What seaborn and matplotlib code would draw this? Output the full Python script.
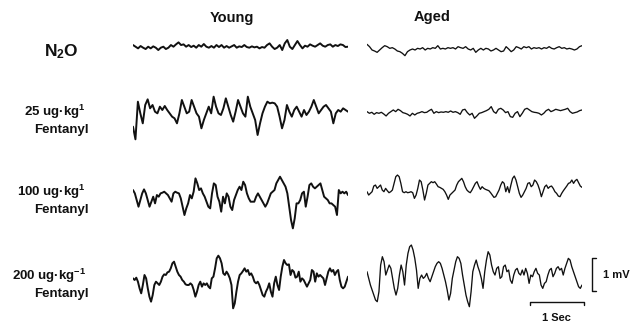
import numpy as np
import pandas as pd
import matplotlib
matplotlib.use("Agg")
import matplotlib.pyplot as plt
import seaborn as sns

# EEG traces (microvolts, about 4 s per trace)
young_n2o = [50, 0, -50, 20, -30, -70, 0, -50, 10, -30, -100, -30, 0, -70, -30, 50, 0, 70, 130, 50,
             70, 0, 50, -10, 30, -30, 50, 0, 80, 0, -30, 20, -30, 50, -10, 50, -30, 20, -30, 10,
             50, -30, 10, -10, 50, -10, -30, 10, -20, 0, -50, -10, -30, 50, 100, 0, -70, -30, 50, -100,
             100, 200, 0, -70, 50, 170, 50, -50, 30, 0, 70, 30, 0, 50, 100, 30, 0, 50, 70, 0,
             50, 20, 70, 50, -10, 0]
aged_n2o = [170, 100, 0, -30, -70, 0, 70, 130, 100, 50, 70, 30, -30, -50, -100, -170, -50, 0, 30, 0,
            50, 30, 70, 0, 50, 30, 70, 50, 130, 30, 50, 30, 70, 50, 70, 30, 100, 70, 50, 100,
            30, 0, 50, -70, 0, 50, 0, 50, 30, -30, 0, 50, 0, -50, -30, 100, 30, -50, 0, 100,
            70, 30, 100, 70, 100, 30, 70, 50, 70, 30, 70, 50, 100, 50, 30, 70, 100, 50, 70, 30,
            50, 30, 0, 30, 100, 130]
young_f25 = [-410, -790, 340, -10, -310, 240, 410, 140, 240, 40, -10, 190, 90, 210, 90, -10, -110, -160, -310, -10,
             390, 190, -10, 40, 390, 190, -10, -110, -460, -210, -10, 190, -10, 490, 190, -10, -60, 140, 440, 190,
             -60, -260, 40, 390, 190, -10, -110, 490, 190, -10, -210, -660, -310, -10, 190, 340, 290, 310, 290, 190,
             -110, -460, -210, 240, 40, -110, 90, 190, 40, -110, 90, -60, 40, 190, 390, 190, -10, 90, 190, 240,
             140, 40, -310, -10, 90, 40, 140, 90, 40]
aged_f25 = [50, 0, 30, -30, 20, 0, 30, -20, -80, 0, 50, 100, 50, 120, 80, 20, 0, -30, -80, 0,
            -50, 0, 20, 50, 20, 30, 80, 120, 0, 50, 20, 40, 30, 50, 30, 70, 30, 50, 20, -30,
            100, 120, 20, -50, 0, -150, -80, 0, 20, 50, 80, 120, 200, 50, 0, 120, 150, 100, 20, 50,
            -100, -120, 0, 50, -100, 0, 120, 150, 100, 50, 30, 20, 0, -50, 0, 80, 120, 50, 80, 120,
            100, 80, 100, 120, 150, 50, 0, 20, 40, 80, 100]
young_f100 = [200, 100, -100, -300, -100, 100, 220, 100, -100, -300, -150, 0, -200, 50, 0, 100, 120, 150, 100, 50,
              -50, -150, 100, 150, 120, 100, -50, -300, -550, -350, -200, 50, -50, 150, 550, 400, 200, 250, 100, 0,
              -150, -300, -350, 100, 400, 350, 0, -150, -450, 0, -200, 100, 0, -300, -400, -100, 50, 200, 300, 200,
              450, 350, 100, -50, -150, -150, -150, 0, 100, 0, -100, -200, -300, -200, -50, 100, 150, 200, 400, 500,
              600, 500, 400, 300, 100, -300, -700, -950, -650, -200, -200, -100, 100, 150, -300, 0, 350, 400, 300, 250,
              300, 350, 400, 200, 0, -50, -100, -200, -200, -250, -300, -550, 200, 100, 150, 100, 150, 50]
aged_f100 = [0, -100, -50, 0, 170, 200, 100, 150, 200, 50, 0, 100, 30, -30, 0, 50, 250, 450, 500, 450,
             250, 0, -30, 0, -30, -20, 0, -30, -200, -100, 100, 350, 300, 50, -250, -50, 200, 250, 300, 270,
             300, 230, 150, 130, 100, 70, 0, -100, -230, -100, -50, 0, 50, 200, 300, 350, 400, 300, 150, 50,
             0, -30, 50, 150, 250, 300, 170, 70, 150, 100, 70, 50, 30, -30, -100, -170, -150, -50, 50, 200,
             300, 250, 0, 150, -30, 200, 400, 470, 350, 150, -50, -170, -100, 0, 100, 250, 270, 150, 200, 350,
             300, 200, 50, -150, 0, 150, 200, 100, 150, 170, 100, 0, -50, -130, -150, -50, 30, 100, 170, 250,
             270, 350, 250, 330, 370, 270, 170, 130]
young_f200 = [50, 0, 70, -50, -250, -400, -150, 150, 50, -250, -500, -650, -450, -150, -50, -100, -150, -50, 100, 170,
              150, 230, 250, 350, 500, 550, 400, 250, 150, 100, 0, -50, -130, -150, -150, -100, -150, -300, -500, -350,
              -150, -50, -200, -100, -150, -100, -200, -250, 50, 100, 350, 650, 730, 650, 500, 200, 150, 250, 170, 50,
              -150, -850, -700, -350, -50, 150, 200, 270, 350, 250, 300, 150, 200, 100, -50, -100, -50, -150, -300, -450,
              -500, -350, -250, -100, -350, -500, -100, 100, -150, -300, 100, 400, 600, 500, 450, 470, 150, 300, 250, 70,
              100, 250, -50, 50, 0, -100, -200, -100, 0, 300, 250, -50, 200, 100, 150, 100, 50, -150, 50, 250,
              350, 250, 300, 150, 250, 300, 0, -200, -250, -200, -50, 100]
aged_f200 = [300, 100, -100, -250, -400, -550, -600, -300, 500, 750, 600, 200, 350, 500, 400, 100, -200, -400, -200, 200,
             500, 300, -100, 500, 850, 1050, 1100, 950, 700, 350, -200, 100, 200, 100, 150, 250, 100, 0, 150, 300,
             450, 550, 600, 550, 400, 200, 0, -250, -550, -350, 100, 350, 600, 750, 700, 550, 200, -100, -400, -600,
             -750, -300, 300, 500, 650, 450, 300, 100, -200, 300, 650, 900, 800, 500, 300, 200, 400, 450, 100, 150,
             450, 500, 300, 350, 50, -50, 200, 350, 400, 250, 200, 350, 200, 400, 250, -50, 200, 150, 300, 400,
             250, 200, -100, -200, -50, 0, 200, 350, 400, 150, 250, 400, 450, 350, 400, 200, 400, 550, 700, 650,
             450, 300, 150, 0, -150, -200, -100]

groups = ["Young", "Aged"]
dose_labels = ["N$_{\\mathbf{2}}$O",
               "25 ug\u00b7kg$^{\\mathbf{1}}$",
               "100 ug\u00b7kg$^{\\mathbf{1}}$",
               "200 ug\u00b7kg$^{\\mathbf{-1}}$"]
drug = "Fentanyl"

traces = [[young_n2o, aged_n2o],
          [young_f25, aged_f25],
          [young_f100, aged_f100],
          [young_f200, aged_f200]]

sns.set_theme(style="white")
plt.rcParams['font.family'] = ['Liberation Sans', 'DejaVu Sans']
plt.rcParams['font.weight'] = 'bold'
plt.rcParams['mathtext.fontset'] = 'custom'
plt.rcParams['mathtext.rm'] = 'Liberation Sans:bold'
plt.rcParams['mathtext.bf'] = 'Liberation Sans:bold'
plt.rcParams['mathtext.it'] = 'Liberation Sans:bold:italic'

W, H = 630, 323
fig = plt.figure(figsize=(W / 100, H / 100), dpi=100)
fig.patch.set_facecolor("white")

# layout in pixels
SEC = 4.0
UV_HALF = 1200          # each strip shows +-1.2 mV
AX_H = 80               # px per strip -> 1 mV ~ 33 px
col_left = [133, 367]
col_w = 215
baseline = [[46.7, 50], [113, 113.3], [196.7, 191.7], [280, 281.7]]
lws = [1.4, 0.95]

axes = {}
for r in range(4):
    for c in range(2):
        y0 = baseline[r][c]
        ax = fig.add_axes([col_left[c] / W, 1 - (y0 + AX_H / 2) / H, col_w / W, AX_H / H])
        v = traces[r][c]
        df = pd.DataFrame({"t": np.linspace(0, SEC, len(v)), "uv": v})
        sns.lineplot(data=df, x="t", y="uv", ax=ax, color="#111111", lw=lws[c],
                     sort=False, estimator=None)
        ax.set_xlim(0, SEC)
        ax.set_ylim(-UV_HALF, UV_HALF)
        ax.axis("off")
        ax.patch.set_alpha(0)
        axes[r, c] = ax

# column titles
tc = "#111111"
fig.text(232 / W, 1 - 18 / H, groups[0], ha="center", va="center", fontsize=10.5, color=tc)
fig.text(432 / W, 1 - 17 / H, groups[1], ha="center", va="center", fontsize=10.5, color=tc)

# row labels
fs = 9.5
fig.text(61 / W, 1 - 52 / H, dose_labels[0], ha="center", va="center", fontsize=12.5, color=tc)
label_y = [(116, 133), (196, 213), (280, 297)]   # text baselines
for (y1, y2), lab in zip(label_y, dose_labels[1:]):
    fig.text(86 / W, 1 - y1 / H, lab, ha="right", va="baseline", fontsize=fs, color=tc)
    fig.text(89 / W, 1 - y2 / H, drug, ha="right", va="baseline", fontsize=fs, color=tc)

# scale bars (1 mV, 1 s) in the last strip's units
ax = axes[3, 1]
sb = dict(color="#111111", lw=1.0, clip_on=False)
bx = 4.19
ax.plot([bx + 0.07, bx, bx, bx + 0.07], [710, 710, -290, -290], **sb)
ax.text(4.39, 200, "1 mV", ha="left", va="center", fontsize=8, color=tc)
ax.plot([3.03, 3.03, 4.03, 4.03], [-700, -610, -610, -700], **sb)
ax.text(3.53, -1090, "1 Sec", ha="center", va="center", fontsize=8, color=tc)

fig.savefig("out.png", dpi=100)
